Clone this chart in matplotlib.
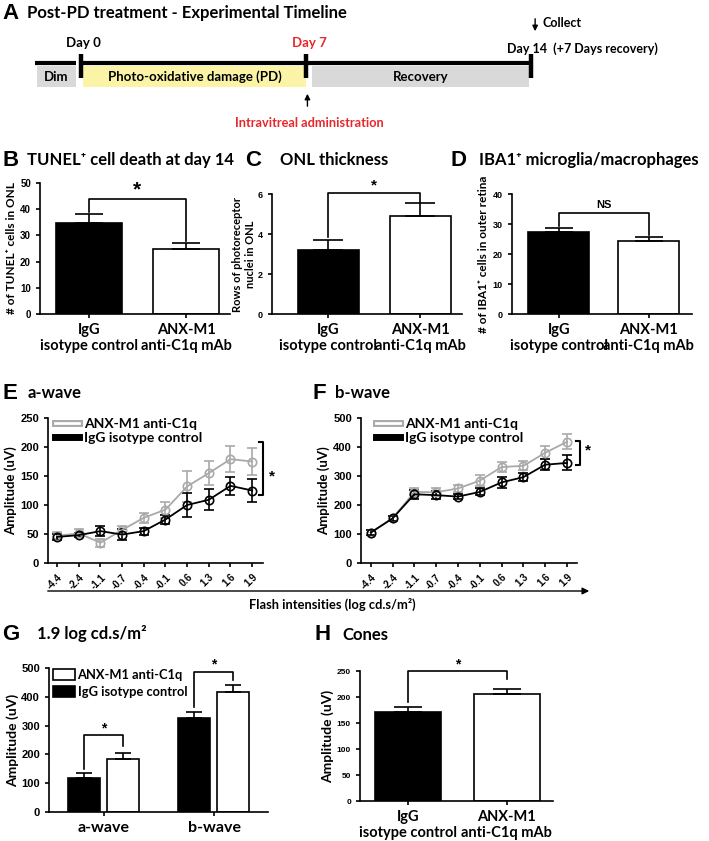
import matplotlib.pyplot as plt
import matplotlib.patheffects as pe
from matplotlib.lines import Line2D
from matplotlib.patches import Patch
import numpy as np

# ---- data ----
groups = ["IgG\nisotype control", "ANX-M1\nanti-C1q mAb"]

tunel_mean = [34.8, 25.0]
tunel_err = [3.3, 2.0]
onl_mean = [3.22, 4.9]
onl_err = [0.48, 0.65]
iba1_mean = [27.2, 24.2]
iba1_err = [1.4, 1.4]

flash = ["-4.4", "-2.4", "-1.1", "-0.7", "-0.4", "-0.1", "0.6", "1.3", "1.6", "1.9"]
a_anx = [47, 51, 35, 57, 78, 92, 132, 155, 179, 175]
a_anx_err = [6, 7, 7, 6, 9, 14, 27, 21, 22, 24]
a_igg = [45, 48, 55, 49, 55, 75, 100, 109, 133, 125]
a_igg_err = [5, 4, 9, 9, 6, 8, 20, 18, 15, 19]
b_anx = [105, 154, 245, 244, 257, 284, 331, 335, 380, 418]
b_anx_err = [8, 8, 12, 14, 12, 20, 18, 16, 22, 26]
b_igg = [105, 154, 237, 234, 229, 245, 278, 296, 339, 345]
b_igg_err = [8, 8, 16, 14, 10, 12, 20, 14, 20, 26]

waves = ["a-wave", "b-wave"]
g_igg = [117, 326]
g_igg_err = [18, 20]
g_anx = [183, 415]
g_anx_err = [22, 26]

cones_mean = [172, 205]
cones_err = [8, 10]

# timeline (days)
phases = ["Dim", "Photo-oxidative damage (PD)", "Recovery"]
phase_start = [-1.36, 0.07, 7.19]
phase_end = [-0.15, 7.0, 13.94]
phase_colors = ["#d9d9d9", "#fbf4a6", "#d9d9d9"]
milestones = [0, 7, 14]

W, H = 709, 841
RED = "#e8262b"
GRAY = "#a9a9a9"
TXT = ["Lato", "DejaVu Sans"]
NUM = "Liberation Sans"
BW = "bold"

fig = plt.figure(figsize=(W / 100, H / 100), dpi=100)


def px_axes(x0, y0, x1, y1):
    ax = fig.add_axes([x0 / W, 1 - y1 / H, (x1 - x0) / W, (y1 - y0) / H])
    ax.px = (x0, x1, y0, y1)
    return ax


def ylabel_at(ax, text, xpx, fs):
    # xpx = right edge of the rotated label, in pixels
    ax.set_ylabel(text, fontsize=fs, family=TXT, fontweight=BW)
    x0, x1 = ax.px[:2]
    ax.yaxis.set_label_coords((xpx - x0) / (x1 - x0), 0.5)


def legend_at(ax, handles, labels, xpx, ypx, size=10, **kw):
    # place legend's upper-left corner at a pixel position
    x0, x1, y0, y1 = ax.px
    ax.legend(handles, labels, loc="upper left",
              bbox_to_anchor=((xpx - x0) / (x1 - x0), 1 - (ypx - y0) / (y1 - y0)),
              frameon=False, borderpad=0, borderaxespad=0,
              prop={"family": TXT, "size": size, "weight": BW}, **kw)


def style(ax, fs=7):
    for s in ["top", "right"]:
        ax.spines[s].set_visible(False)
    for s in ["left", "bottom"]:
        ax.spines[s].set_linewidth(1.2)
    ax.tick_params(width=1.2, length=3)
    for lab in ax.get_yticklabels():
        lab.set_fontfamily(NUM)
        lab.set_fontweight("bold")
        lab.set_fontsize(fs)


def bracket(ax, x1, x2, y, y1, y2, label, ty, fs=12):
    ax.plot([x1, x1, x2, x2], [y1, y, y, y2], color="black", lw=1.2, clip_on=False)
    ax.text((x1 + x2) / 2, ty, label, ha="center", va="center", fontsize=fs,
            fontweight="bold", family=NUM, clip_on=False)


def bar_panel(ax, means, errs, width, top, step, cap, fs=7):
    x = np.arange(2)
    ax.bar(x, means, width, color=["black", "white"], edgecolor="black", lw=1.2)
    ax.errorbar(x, means, yerr=[[0, 0], errs], fmt="none", ecolor="black",
                elinewidth=1.2, capsize=cap, capthick=1.2)
    ax.set_ylim(0, top)
    ax.set_yticks(np.arange(0, top + step / 2, step))
    ax.set_xticks(x, groups, fontsize=10.5, family=TXT, fontweight=BW)
    style(ax, fs)


# ---- overlay for titles ----
ov = fig.add_axes([0, 0, 1, 1])
ov.set_xlim(0, W)
ov.set_ylim(H, 0)
ov.axis("off")
ov.set_zorder(10)


def title(x_letter, x_text, y, letter, text, fs=12):
    ov.text(x_letter, y, letter, fontsize=16, fontweight="bold", family=NUM, va="center")
    ov.text(x_text, y, text, fontsize=fs, family=TXT, fontweight=BW, va="center")


title(2, 27, 13, "A", "Post-PD treatment - Experimental Timeline")
title(3, 27, 160, "B", "TUNEL⁺ cell death at day 14")
title(245, 280, 160, "C", "ONL thickness")
title(451, 479, 160, "D", "IBA1⁺ microglia/macrophages")
title(2, 28, 393, "E", "a-wave")
title(313, 335, 393, "F", "b-wave")
title(2, 37, 634, "G", "1.9 log cd.s/m²")
title(315, 342, 635, "H", "Cones")

# ---- A: timeline ----
scale = 32.16
d0 = 80.7
ta = px_axes(0, 0, W, 140)
ta.set_xlim(-d0 / scale, (W - d0) / scale)
ta.set_ylim(140, 0)
ta.axis("off")
ta.plot([-1.42, -0.15], [63, 63], color="black", lw=3, solid_capstyle="butt")
ta.plot([milestones[0], milestones[-1]], [63, 63], color="black", lw=3, solid_capstyle="butt")
for d in milestones:
    ta.plot([d, d], [54, 78], color="black", lw=3.2, solid_capstyle="butt")
for name, s, e, c in zip(phases, phase_start, phase_end, phase_colors):
    ta.fill_between([s, e], 66, 87, color=c, lw=0)
    ta.text((s + e) / 2, 77, name, ha="center", va="center", fontsize=9.5,
            family=TXT, fontweight=BW)
ta.text(0.1, 43, "Day 0", ha="center", va="center", fontsize=9.5, family=TXT, fontweight=BW)
ta.text(7.1, 43, "Day 7", ha="center", va="center", fontsize=9.5, family=TXT,
        fontweight=BW, color=RED)
ta.text(13.25, 49, "Day 14  (+7 Days recovery)", ha="left", va="center", fontsize=9,
        family=TXT, fontweight=BW)
ta.annotate("", xy=(14.13, 34), xytext=(14.13, 16),
            arrowprops=dict(arrowstyle="-|>", color="black", lw=1, mutation_scale=8))
ta.text(14.37, 23, "Collect", ha="left", va="center", fontsize=9, family=TXT, fontweight=BW)
ta.annotate("", xy=(7.05, 91), xytext=(7.05, 109),
            arrowprops=dict(arrowstyle="-|>", color="black", lw=1, mutation_scale=8))
ta.text(7.12, 123, "Intravitreal administration", ha="center", va="center",
        fontsize=9.2, family=TXT, fontweight=BW, color=RED)

# ---- B ----
axb = px_axes(40, 183, 230, 314)
bar_panel(axb, tunel_mean, tunel_err, 0.68, 50, 10, 10)
axb.set_xlim(-0.5, 1.45)
ylabel_at(axb, "# of TUNEL⁺ cells in ONL", 17, 8.5)
bracket(axb, 0, 1, 44, 39, 28, "*", 47.2, fs=15)

# ---- C ----
axc = px_axes(272, 194, 462, 314)
bar_panel(axc, onl_mean, onl_err, 0.66, 6, 2, 10.5, fs=6.5)
axc.set_xlim(-0.61, 1.45)
ylabel_at(axc, "Rows of photoreceptor\nnuclei in ONL", 256, 8)
bracket(axc, 0, 1, 6.07, 3.85, 5.6, "*", 6.45, fs=11)

# ---- D ----
axd = px_axes(512, 194, 692, 314)
bar_panel(axd, iba1_mean, iba1_err, 0.68, 40, 10, 10, fs=6.5)
axd.set_xlim(-0.52, 1.48)
ylabel_at(axd, "# of IBA1⁺ cells in outer retina", 489, 8.5)
bracket(axd, 0, 1, 33.7, 29.5, 26.5, "NS", 36.5, fs=8)


# ---- E / F ----
def wave_panel(ax, anx, anx_err, igg, igg_err, top, step, leg_x, lab_x):
    x = np.arange(len(flash))
    ax.errorbar(x, anx, yerr=anx_err, color=GRAY, marker="o", mfc="none", ms=6,
                mew=1.2, lw=1.3, capsize=3.5, capthick=1.2, elinewidth=1.2)
    ax.errorbar(x, igg, yerr=igg_err, color="black", marker="o", mfc="none", ms=6,
                mew=1.2, lw=1.3, capsize=3.5, capthick=1.2, elinewidth=1.2)
    ax.set_ylim(0, top)
    ax.set_yticks(np.arange(0, top + step / 2, step))
    ax.set_xticks(x, flash, rotation=45, ha="right", rotation_mode="anchor",
                  fontsize=7, fontweight="bold", family=NUM)
    ylabel_at(ax, "Amplitude (uV)", lab_x, 9.5)
    style(ax, 8)
    h_anx = Line2D([], [], color="white", lw=2,
                   path_effects=[pe.Stroke(linewidth=5, foreground=GRAY), pe.Normal()])
    h_igg = Line2D([], [], color="black", lw=5)
    legend_at(ax, [h_anx, h_igg], ["ANX-M1 anti-C1q", "IgG isotype control"], leg_x, 418,
              handlelength=1.7, labelspacing=0.15, handletextpad=0.4)


axe = px_axes(48, 418, 263, 563)
wave_panel(axe, a_anx, a_anx_err, a_igg, a_igg_err, 250, 50, 55, 17)
axe.set_xlim(-0.42, 9.5)
axe.plot([9.3, 9.5, 9.5, 9.3], [208, 208, 117, 117], color="black", lw=1.5, clip_on=False)
axe.text(9.92, 150, "*", ha="center", va="center", fontsize=11, fontweight="bold", family=NUM)

axf = px_axes(361, 418, 577, 563)
wave_panel(axf, b_anx, b_anx_err, b_igg, b_igg_err, 500, 100, 376, 330)
axf.set_xlim(-0.45, 9.46)
axf.plot([9.4, 9.61, 9.61, 9.4], [419, 419, 338, 338], color="black", lw=1.5, clip_on=False)
axf.text(9.95, 388, "*", ha="center", va="center", fontsize=11, fontweight="bold", family=NUM)

ov.annotate("", xy=(592, 591), xytext=(45, 591),
            arrowprops=dict(arrowstyle="-|>", color="black", lw=1, mutation_scale=10))
ov.text(332, 604, "Flash intensities (log cd.s/m²)", ha="center", va="center",
        fontsize=9.3, family=TXT, fontweight=BW)

# ---- G ----
axg = px_axes(49, 668, 268, 812)
xg = np.arange(2)
axg.bar(xg - 0.18, g_igg, 0.29, color="black", edgecolor="black", lw=1.2)
axg.bar(xg + 0.175, g_anx, 0.29, color="white", edgecolor="black", lw=1.2)
axg.errorbar(xg - 0.18, g_igg, yerr=[[0, 0], g_igg_err], fmt="none", ecolor="black",
             elinewidth=1.2, capsize=6, capthick=1.2)
axg.errorbar(xg + 0.175, g_anx, yerr=[[0, 0], g_anx_err], fmt="none", ecolor="black",
             elinewidth=1.2, capsize=6, capthick=1.2)
axg.set_ylim(0, 500)
axg.set_yticks(np.arange(0, 501, 100))
axg.set_xlim(-0.5, 1.49)
axg.set_xticks(xg, waves, fontsize=11.5, family=TXT, fontweight=BW)
axg.tick_params(axis="x", length=0)
style(axg, 8)
ylabel_at(axg, "Amplitude (uV)", 19, 10)
legend_at(axg, [Patch(facecolor="white", edgecolor="black", lw=1.2),
                Patch(facecolor="black", edgecolor="black", lw=1.2)],
          ["ANX-M1 anti-C1q", "IgG isotype control"], 53, 669, size=9.3,
          handlelength=1.7, handleheight=0.95, labelspacing=0.35, handletextpad=0.2)
bracket(axg, -0.18, 0.175, 266, 150, 228, "*", 290, fs=10)
bracket(axg, 0.82, 1.175, 486, 365, 457, "*", 512, fs=10)

# ---- H ----
axh = px_axes(360, 671, 553, 801)
bar_panel(axh, cones_mean, cones_err, 0.67, 250, 50, 10, fs=6)
axh.set_xlim(-0.49, 1.47)
ylabel_at(axh, "Amplitude (uV)", 334, 10)
bracket(axh, 0, 1, 249.5, 190, 235, "*", 262, fs=10)

fig.savefig("out.png", dpi=100)
